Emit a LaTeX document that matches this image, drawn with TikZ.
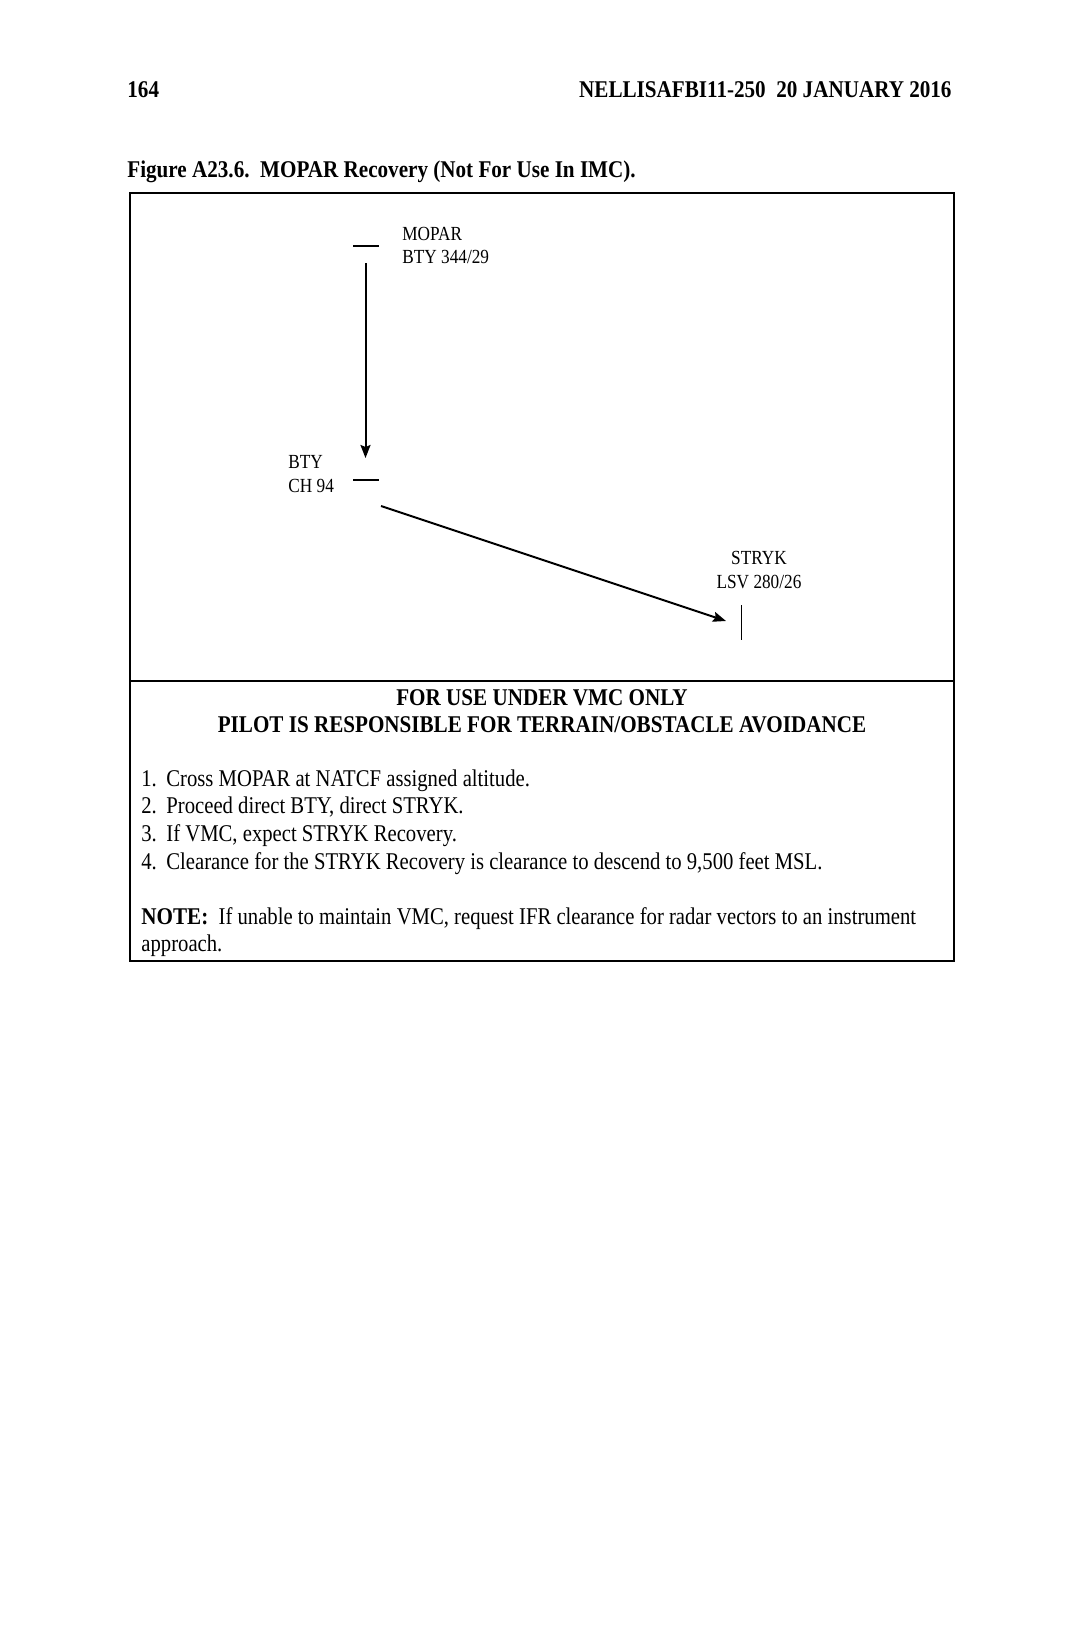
\documentclass[tikz,border=0pt]{standalone}
\usepackage{fontspec}
\setmainfont[FakeStretch=0.862,BoldFeatures={FakeStretch=0.88}]{Liberation Serif}
\usetikzlibrary{arrows.meta}
\tikzset{
  lbl/.style={inner sep=0pt, font=\fontsize{10}{11.5}\selectfont},
  body/.style={inner sep=0pt, font=\fontsize{12}{13.8}\selectfont},
  bodyb/.style={inner sep=0pt, font=\fontsize{12}{13.8}\selectfont\bfseries},
  tick/.style={line width=0.8pt},
  route/.style={line width=1pt, -{Stealth[length=6.5pt,width=5pt,inset=1pt]}},
  frame/.style={line width=1.1pt}
}
\begin{document}
\begin{tikzpicture}[x=0.5pt,y=-0.5pt]
\useasboundingbox[fill=white] (0,0) rectangle (1080,1628);
% page header
\node[bodyb, anchor=base west] (pg) at (127,97) {164};
\node[bodyb, anchor=base east] (hdr) at (952,97) {NELLISAFBI11-250\ \ 20 JANUARY 2016};
\node[bodyb, anchor=base west] (fig) at (127,177) {Figure A23.6.\ \ MOPAR Recovery (Not For Use In IMC).};
% frame
\draw[frame] (130,193) rectangle (954,961);
\draw[frame] (130,681) -- (954,681);
% fixes
\coordinate (mopL) at (353,246); \coordinate (mopR) at (379,246);
\draw[tick] (mopL) -- (mopR);
\node[lbl, anchor=base west] (mop1) at (402,240) {MOPAR};
\node[lbl, anchor=base west] (mop2) at (402,263) {BTY 344/29};
\coordinate (btyL) at (353,480); \coordinate (btyR) at (379,480);
\draw[tick] (btyL) -- (btyR);
\node[lbl, anchor=base west] (bty1) at (288,468) {BTY};
\node[lbl, anchor=base west] (bty2) at (288,492) {CH 94};
\coordinate (strT) at (741.5,605); \coordinate (strB) at (741.5,640);
\draw[tick] (strT) -- (strB);
\node[lbl, anchor=base] (str1) at (759,564) {STRYK};
\node[lbl, anchor=base] (str2) at (759,588) {LSV 280/26};
% route
\coordinate (a1) at (365.5,263); \coordinate (a2) at (365.5,458);
\draw[route] (a1) -- (a2);
\coordinate (b1) at (381,506); \coordinate (b2) at (726,621);
\draw[route] (b1) -- (b2);
% text
\node[bodyb, anchor=base] (h1) at (542,705) {FOR USE UNDER VMC ONLY};
\node[bodyb, anchor=base] (h2) at (542,732) {PILOT IS RESPONSIBLE FOR TERRAIN/OBSTACLE AVOIDANCE};
\node[body, anchor=base west] (n1) at (141,786) {1.};
\node[body, anchor=base west] (t1) at (166,786) {Cross MOPAR at NATCF assigned altitude.};
\node[body, anchor=base west] (n2) at (141,813) {2.};
\node[body, anchor=base west] (t2) at (166,813) {Proceed direct BTY, direct STRYK.};
\node[body, anchor=base west] (n3) at (141,841) {3.};
\node[body, anchor=base west] (t3) at (166,841) {If VMC, expect STRYK Recovery.};
\node[body, anchor=base west] (n4) at (141,869) {4.};
\node[body, anchor=base west] (t4) at (166,869) {Clearance for the STRYK Recovery is clearance to descend to 9,500 feet MSL.};
\node[body, anchor=base west] (note) at (141,924) {\textbf{NOTE:}\ \ If unable to maintain VMC, request IFR clearance for radar vectors to an instrument};
\node[body, anchor=base west] (note2) at (141,951) {approach.};
\end{tikzpicture}
\end{document}
